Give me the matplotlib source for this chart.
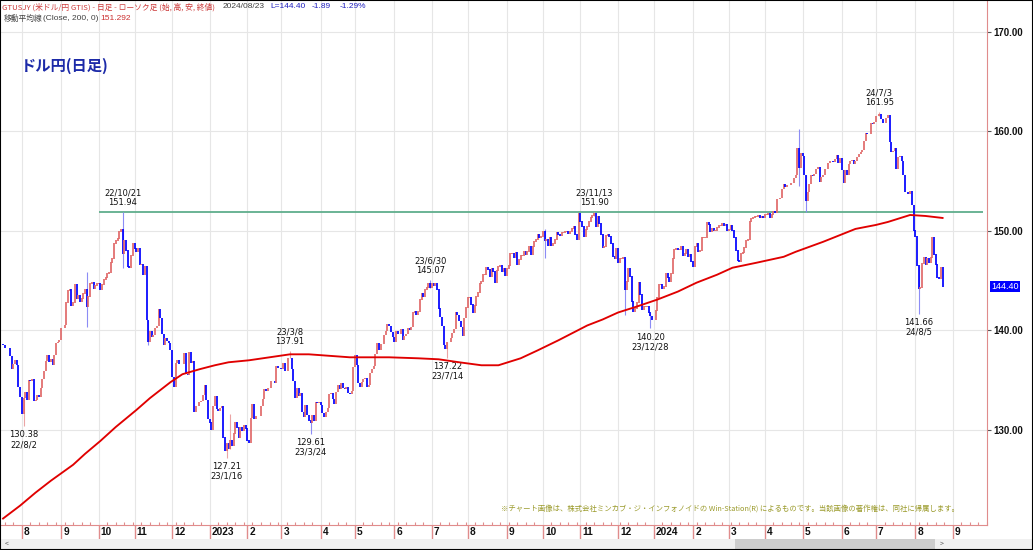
import matplotlib
matplotlib.use("Agg")
import matplotlib.pyplot as plt
from matplotlib import font_manager
from matplotlib.patches import Rectangle
import numpy as np
import pandas as pd

plt.rcParams['font.family'] = ['Noto Sans CJK JP', 'DejaVu Sans']

# USD/JPY daily closes, one list per month (weekdays only)
closes_by_month = {
    "2022-07": [138.5, 138.2, 138.2, 138.2, 137.4, 136.1, 136.6, 137.0, 136.5, 134.3, 133.3],
    "2022-08": [131.6, 133.2, 133.8, 133.0, 135.0, 134.9, 135.1, 132.9, 133.0, 133.5, 133.3, 134.2,
                135.1, 135.9, 136.9, 137.5, 136.8, 137.1, 136.5, 137.5, 138.7, 138.8, 139.0],
    "2022-09": [140.2, 140.2, 140.5, 142.8, 144.0, 144.1, 142.5, 142.8, 144.6, 143.2, 143.5, 142.9,
                143.2, 143.7, 144.1, 142.4, 143.4, 144.7, 144.8, 144.2, 144.5, 144.7],
    "2022-10": [144.7, 144.1, 144.6, 145.1, 145.3, 145.7, 145.8, 146.8, 147.2, 148.7, 149.0, 149.2,
                149.9, 150.1, 147.7, 149.0, 148.0, 146.4, 146.3, 147.5, 148.7],
    "2022-11": [148.2, 147.9, 148.2, 146.6, 146.6, 145.6, 146.4, 141.0, 138.8, 139.9, 139.3, 139.5,
                140.2, 140.4, 142.1, 141.2, 139.6, 138.5, 139.2, 138.9, 138.7, 138.0],
    "2022-12": [135.3, 134.3, 136.7, 137.0, 136.6, 136.6, 136.6, 137.7, 135.6, 135.5, 137.8, 136.7,
                136.9, 131.8, 132.4, 132.4, 132.8, 132.9, 133.5, 134.5, 133.0, 131.1],
    "2023-01": [130.7, 130.0, 132.4, 133.4, 132.1, 131.9, 132.2, 132.4, 129.2, 127.9, 128.6, 128.1,
                128.9, 128.4, 129.6, 130.7, 130.2, 129.2, 130.2, 129.9, 130.4, 130.1],
    "2023-02": [128.9, 128.7, 131.2, 132.6, 131.1, 131.4, 131.4, 131.4, 132.4, 133.1, 134.1, 133.9,
                134.2, 134.2, 134.9, 134.9, 134.7, 136.4, 136.2, 136.2],
    "2023-03": [136.1, 136.7, 135.9, 135.9, 137.2, 137.2, 136.1, 134.9, 133.2, 134.2, 133.4, 133.7,
                131.8, 131.3, 132.5, 131.5, 130.9, 130.7, 131.5, 130.9, 132.8, 132.7, 132.8],
    "2023-04": [132.5, 131.7, 131.3, 131.8, 132.2, 133.6, 133.7, 133.1, 132.6, 133.8, 134.5, 134.1,
                134.7, 134.2, 134.1, 134.3, 133.7, 133.6, 133.9, 136.3],
    "2023-05": [137.5, 136.5, 134.7, 134.3, 134.8, 135.1, 135.2, 134.3, 134.5, 135.7, 136.1, 136.4,
                137.6, 138.7, 138.0, 138.6, 138.6, 139.5, 139.9, 140.6, 140.4, 139.8, 139.3],
    "2023-06": [138.8, 139.9, 139.6, 139.6, 140.1, 139.0, 139.4, 139.6, 140.2, 140.0, 140.3, 141.8,
                141.9, 141.5, 141.9, 143.1, 143.7, 143.4, 144.1, 144.3, 144.7, 144.3],
    "2023-07": [144.7, 144.5, 144.7, 144.1, 142.2, 141.3, 140.4, 138.5, 138.1, 138.8, 138.8, 139.2,
                139.7, 140.1, 141.8, 141.5, 140.9, 140.3, 139.4, 141.2, 142.3],
    "2023-08": [143.3, 143.3, 142.6, 141.8, 142.5, 143.4, 143.8, 144.7, 144.9, 145.6, 145.6, 146.3,
                146.1, 145.4, 146.2, 145.9, 144.8, 146.0, 146.4, 146.5, 145.9, 146.2, 145.5],
    "2023-09": [146.2, 146.5, 147.7, 147.7, 147.3, 147.8, 146.6, 147.1, 147.5, 147.5, 147.9, 147.6,
                147.9, 148.4, 147.6, 148.4, 148.9, 149.1, 149.6, 149.3, 149.4],
    "2023-10": [149.9, 149.0, 149.1, 148.5, 149.3, 148.5, 148.7, 149.1, 149.8, 149.6, 149.5, 149.8,
                149.8, 149.9, 149.9, 149.7, 149.9, 150.2, 150.4, 149.6, 149.1, 151.7],
    "2023-11": [150.9, 150.4, 149.4, 150.1, 150.4, 150.9, 151.3, 151.5, 151.7, 150.4, 151.4, 150.7,
                149.6, 148.3, 148.4, 149.5, 149.6, 149.4, 148.7, 147.4, 147.2, 148.2],
    "2023-12": [146.8, 147.2, 147.2, 147.3, 144.1, 144.9, 146.2, 145.4, 142.9, 141.9, 142.2, 142.8,
                144.8, 143.6, 142.1, 142.4, 142.4, 142.4, 141.8, 141.4, 141.0],
    "2024-01": [141.0, 142.0, 143.3, 144.6, 144.6, 144.2, 144.4, 145.7, 145.3, 144.9, 145.7, 147.2,
                148.1, 148.2, 148.1, 148.1, 148.4, 147.5, 147.7, 148.1, 147.4, 147.6, 146.9],
    "2024-02": [146.4, 148.4, 148.7, 147.9, 148.0, 149.3, 149.3, 149.3, 150.8, 150.6, 149.9, 150.2,
                150.0, 150.0, 150.3, 150.5, 150.5, 150.7, 150.5, 150.6, 150.0],
    "2024-03": [150.1, 150.5, 150.0, 149.3, 148.0, 147.0, 146.9, 147.7, 147.8, 148.3, 149.0, 149.1,
                150.9, 151.2, 151.3, 151.4, 151.4, 151.5, 151.3, 151.4, 151.3],
    "2024-04": [151.6, 151.6, 151.7, 151.3, 151.6, 151.9, 151.8, 153.2, 153.2, 153.3, 154.2, 154.7,
                154.4, 154.6, 154.6, 154.8, 154.8, 155.3, 155.6, 158.3, 156.3, 157.8],
    "2024-05": [157.5, 155.6, 153.0, 153.9, 154.7, 155.6, 155.5, 155.7, 156.2, 156.4, 154.9, 155.4,
                155.6, 156.2, 156.2, 156.8, 157.0, 157.0, 156.9, 157.2, 157.6, 156.8, 157.3],
    "2024-06": [156.1, 154.8, 156.1, 155.6, 156.7, 157.0, 157.1, 156.7, 157.0, 157.4, 157.7, 157.9,
                158.1, 159.0, 159.8, 159.7, 159.7, 160.8, 160.7, 160.9],
    "2024-07": [161.5, 161.5, 161.7, 161.2, 160.8, 160.8, 161.3, 161.6, 158.9, 157.9, 158.0, 158.3,
                156.2, 157.4, 157.5, 157.0, 155.6, 153.9, 153.9, 153.7, 154.0, 152.6, 150.0],
    "2024-08": [149.4, 146.5, 144.2, 144.3, 146.7, 147.3, 146.6, 147.2, 146.8, 147.3, 149.3, 147.6,
                146.6, 145.3, 145.2, 146.3, 144.4],
}
first_day = "2022-07-15"
first_open = 138.6

# wick extremes
highs = {"2022-09-22": 145.90, "2022-10-21": 151.94, "2023-01-18": 131.58, "2023-03-08": 137.91,
         "2023-06-30": 145.07, "2023-10-03": 150.16, "2023-11-13": 151.90, "2024-04-29": 160.20,
         "2024-07-03": 161.95}
lows = {"2022-08-02": 130.38, "2022-09-22": 140.35, "2022-10-21": 146.23, "2022-11-11": 138.50,
        "2023-01-16": 127.21, "2023-03-24": 129.61, "2023-07-14": 137.22, "2023-10-03": 147.30,
        "2023-12-07": 141.60, "2023-12-28": 140.20, "2024-04-29": 154.50, "2024-05-03": 151.86,
        "2024-08-05": 141.66}
peak_labels = ["2022-10-21", "2023-03-08", "2023-06-30", "2023-11-13", "2024-07-03"]
trough_labels = ["2022-08-02", "2023-01-16", "2023-03-24", "2023-07-14", "2023-12-28", "2024-08-05"]

# 200-day moving average, read at points along the line
ma_dates = ["2022-07-15", "2022-07-29", "2022-08-11", "2022-08-24", "2022-09-12", "2022-09-21",
            "2022-10-04", "2022-10-17", "2022-11-02", "2022-11-14", "2022-11-22", "2022-11-30",
            "2022-12-09", "2022-12-23", "2023-01-05", "2023-01-17", "2023-02-02", "2023-02-20",
            "2023-03-08", "2023-03-23", "2023-04-26", "2023-05-29", "2023-06-21", "2023-07-07",
            "2023-07-25", "2023-08-11", "2023-08-25", "2023-09-13", "2023-09-27", "2023-10-13",
            "2023-11-07", "2023-11-20", "2023-12-01", "2023-12-18", "2024-01-03", "2024-01-19",
            "2024-02-05", "2024-02-21", "2024-03-05", "2024-03-25", "2024-04-16", "2024-04-25",
            "2024-05-17", "2024-06-13", "2024-07-01", "2024-07-10", "2024-07-29", "2024-08-09",
            "2024-08-23"]
ma_values = [121.1, 122.4, 123.7, 124.9, 126.5, 127.6, 128.9, 130.3, 132.0, 133.2, 134.0, 134.8,
             135.6, 136.1, 136.5, 136.8, 137.0, 137.3, 137.6, 137.6, 137.3, 137.3, 137.2, 137.1,
             136.8, 136.5, 136.5, 137.2, 138.0, 139.0, 140.5, 141.1, 141.8, 142.4, 143.1, 143.9,
             144.8, 145.6, 146.3, 146.8, 147.4, 147.9, 148.9, 150.2, 150.6, 150.9, 151.6, 151.5,
             151.3]

resistance = 151.94
resistance_from = "2022-10-03"
last_price = 144.40

# build the weekday index
dates, closes = [], []
for month, vals in closes_by_month.items():
    start = pd.Timestamp(month + "-01")
    days = pd.bdate_range(start, start + pd.offsets.MonthEnd(0))
    days = days[days >= pd.Timestamp(first_day)][:len(vals)]
    dates.extend(days)
    closes.extend(vals)
pos = {d: i for i, d in enumerate(dates)}
future = pd.bdate_range(dates[-1] + pd.offsets.BDay(1), "2024-09-30")
all_dates = list(dates) + list(future)

opens = [first_open] + closes[:-1]
xs = np.arange(len(closes))

names = {f.name for f in font_manager.fontManager.ttflist}
narrow = 'Liberation Sans Narrow' if 'Liberation Sans Narrow' in names else 'Liberation Sans'

fig = plt.figure(figsize=(10.33, 5.5), dpi=100)
ax = fig.add_axes([1 / 1033, 25 / 550, 986 / 1033, 524 / 550])
ax.set_xlim(-1.2, 573.4)
ax.set_ylim(120.45, 173.1)

# month ticks + grid
month_idx = [i for i in range(1, len(all_dates)) if all_dates[i].month != all_dates[i - 1].month]
month_lab = [str(all_dates[i].year) if all_dates[i].month == 1 else str(all_dates[i].month) for i in month_idx]
week_idx = [i for i in range(len(all_dates)) if all_dates[i].weekday() == 0]
ax.set_xticks(month_idx)
ax.set_xticklabels([])
ax.set_xticks(week_idx, minor=True)
ax.tick_params(axis='x', which='major', direction='out', length=10, color='#e08c8c', width=1)
ax.tick_params(axis='x', which='minor', direction='in', length=2.5, color='#e08c8c', width=0.8)
for i, lab in zip(month_idx, month_lab):
    ax.text(i + 1.2, -0.004, lab, transform=ax.get_xaxis_transform(), ha='left', va='top',
            fontsize=7.3, fontweight='bold', family=narrow, color='#111111')
for i in month_idx:
    ax.axvline(i, color='#e6e6e6', lw=0.8, zorder=0)
for p in [130, 140, 150, 160, 170]:
    ax.axhline(p, color='#e6e6e6', lw=0.8, zorder=0)

ax.yaxis.tick_right()
ax.set_yticks([130, 140, 150, 160, 170])
ax.set_yticklabels([f"{p:.2f}" for p in [130, 140, 150, 160, 170]], family=narrow, fontsize=7,
                   fontweight='bold', color='#111111')
ax.tick_params(axis='y', direction='out', length=3, width=0.8, color='#555555', pad=1.5)
for side in ['top', 'left']:
    ax.spines[side].set_visible(False)
ax.spines['bottom'].set_color('#e08c8c')
ax.spines['right'].set_color('#e08c8c')

# resistance line
ax.hlines(resistance, pos[pd.Timestamp(resistance_from)], 573.4, color='#5fae8c', lw=1.3, zorder=1)

# candles
up_col, dn_col = '#e06a6a', '#0000ff'
body_lo = np.minimum(opens, closes)
body_hi = np.maximum(opens, closes)
cols = [up_col if c >= o else dn_col for o, c in zip(opens, closes)]
for d in set(highs) | set(lows):
    i = pos[pd.Timestamp(d)]
    hi = highs.get(d, body_hi[i])
    lo = lows.get(d, body_lo[i])
    wc = '#eba4a4' if cols[i] == up_col else '#8c8cf5'
    ax.vlines(i, lo, hi, color=wc, lw=0.8, zorder=2)
ax.vlines(xs, body_lo, body_hi + 0.05, colors=cols, lw=1.25, zorder=3)

# moving average
ma_x = [pos[pd.Timestamp(d)] for d in ma_dates]
ax.plot(ma_x, ma_values, color='#e00000', lw=1.35, zorder=4, solid_joinstyle='round')

# peak / trough labels
for d in peak_labels:
    t = pd.Timestamp(d)
    ax.annotate(f"{t.year % 100}/{t.month}/{t.day}\n{highs[d]:.2f}", (pos[t], highs[d]),
                xytext=(0, 3.5), textcoords='offset points', ha='center', va='bottom',
                fontsize=6, linespacing=1.1, color='#111111', family='DejaVu Sans')
for d in trough_labels:
    t = pd.Timestamp(d)
    ax.annotate(f"{lows[d]:.2f}\n{t.year % 100}/{t.month}/{t.day}", (pos[t], lows[d]),
                xytext=(0, -3), textcoords='offset points', ha='center', va='top',
                fontsize=6, linespacing=1.1, color='#111111', family='DejaVu Sans')

# current price tag
ax.text(1.004, last_price, f"{last_price:.2f}", transform=ax.get_yaxis_transform(), ha='left',
        va='center', fontsize=6.5, color='white', family=narrow,
        bbox=dict(boxstyle='square,pad=0.15', fc='#0000ff', ec='none'))


def px(x, y):
    return x / 1033, 1 - y / 550


def header_line(x0, y, parts):
    # lay the coloured pieces out one after another
    renderer = fig.canvas.get_renderer()
    x = x0
    for text, color, family, size, gap in parts:
        t = fig.text(*px(x, y), text, fontsize=size, family=family, color=color, va='center')
        x = t.get_window_extent(renderer=renderer).x1 + gap


cjk = ['Noto Sans CJK JP', 'DejaVu Sans']
header_line(2, 7, [
    ("GTUSJY (米ドル/円 GTIS) - 日足 - ローソク足 (始, 高, 安, 終値)", '#cc3a3a', cjk, 5.6, 8),
    ("2024/08/23", '#404040', narrow, 6, 5),
    ("L=144.40", '#2020c0', narrow, 6, 6),
    ("-1.89", '#2020c0', narrow, 6, 9),
    ("-1.29%", '#2020c0', narrow, 6, 0),
])
header_line(4, 19, [
    ("移動平均線", '#404040', cjk, 5.6, 0.5),
    ("(Close, 200, 0)", '#404040', narrow, 6, 2),
    ("151.292", '#cc3030', narrow, 6, 0),
])
fig.text(*px(21, 66), "ドル円(日足)", fontsize=11, fontweight='bold', color='#1c2aa8', va='center')
fig.text(*px(959, 509), "※チャート画像は、株式会社ミンカブ・ジ・インフォノイドの Win-Station(R) によるものです。"
         "当該画像の著作権は、同社に帰属します。", fontsize=5.3, color='#9a9a2a', ha='right', va='center')

# scroll bar strip
fig.patches.append(Rectangle(px(0, 549), 1, 10 / 550, transform=fig.transFigure, fc='#f0f0f0', ec='none'))
fig.patches.append(Rectangle(px(735, 549), 200 / 1033, 10 / 550, transform=fig.transFigure, fc='#cdcdcd', ec='none'))
fig.text(*px(5, 544), "<", fontsize=5, color='#555555', va='center')
fig.text(*px(940, 544), ">", fontsize=5, color='#555555', va='center')
fig.patches.append(Rectangle((0, 0), 1, 1, transform=fig.transFigure, fill=False, ec='black', lw=1.5))

fig.savefig("out.png", dpi=100)
